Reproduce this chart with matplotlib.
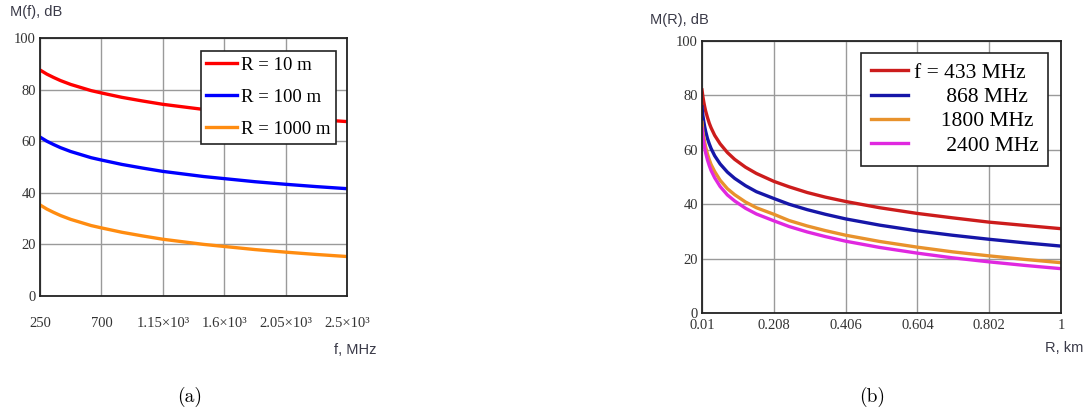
import matplotlib
matplotlib.use("Agg")
import matplotlib.pyplot as plt

# (a) attenuation vs frequency
f_mhz = [250, 300, 350, 400, 475, 550, 625, 700, 850, 1000, 1150, 1300,
         1450, 1600, 1825, 2050, 2275, 2500]
m_r10 = [87.6, 86.0, 84.7, 83.5, 82.0, 80.8, 79.6, 78.7, 77.0, 75.6, 74.3,
         73.3, 72.3, 71.5, 70.3, 69.3, 68.4, 67.6]
m_r100 = [61.6, 60.0, 58.7, 57.5, 56.0, 54.8, 53.6, 52.7, 51.0, 49.6, 48.3,
          47.3, 46.3, 45.5, 44.3, 43.3, 42.4, 41.6]
m_r1000 = [35.3, 33.7, 32.4, 31.2, 29.7, 28.5, 27.3, 26.4, 24.7, 23.3, 22.0,
           21.0, 20.0, 19.2, 18.0, 17.0, 16.1, 15.3]
labels_a = ["R = 10 m", "R = 100 m", "R = 1000 m"]
xticks_a = [250, 700, 1150, 1600, 2050, 2500]
xticklabels_a = ["250", "700", "1.15×10³", "1.6×10³", "2.05×10³", "2.5×10³"]

# (b) attenuation vs distance
r_km = [0.01, 0.0125, 0.015, 0.0175, 0.02, 0.025, 0.03, 0.035, 0.045, 0.06,
        0.08, 0.1, 0.13, 0.16, 0.208, 0.25, 0.3, 0.35, 0.406, 0.5, 0.604,
        0.7, 0.802, 0.9, 1.0]
m_433 = [82.0, 79.5, 77.5, 75.8, 74.3, 71.9, 69.8, 68.1, 65.3, 62.2, 59.0,
         56.5, 53.6, 51.3, 48.4, 46.4, 44.3, 42.6, 41.0, 38.7, 36.6, 35.0,
         33.4, 32.2, 31.0]
m_868 = [75.8, 72.5, 70.3, 68.4, 66.8, 64.2, 62.2, 60.5, 57.8, 54.8, 51.8,
         49.5, 46.8, 44.6, 42.1, 40.0, 38.0, 36.3, 34.6, 32.3, 30.2, 28.6,
         27.1, 25.8, 24.6]
m_1800 = [70.1, 66.8, 64.6, 62.7, 61.1, 58.5, 56.4, 54.6, 52.0, 48.8, 45.7,
          43.5, 40.8, 38.7, 36.3, 34.0, 32.0, 30.3, 28.6, 26.3, 24.2, 22.5,
          21.0, 19.7, 18.5]
m_2400 = [67.9, 64.6, 62.4, 60.5, 58.9, 56.3, 54.2, 52.4, 49.7, 46.5, 43.4,
          41.2, 38.5, 36.4, 33.9, 31.8, 29.8, 28.1, 26.4, 24.1, 22.0, 20.3,
          18.8, 17.5, 16.3]
labels_b = ["f = 433 MHz", "      868 MHz", "     1800 MHz", "      2400 MHz"]
xticks_b = [0.01, 0.208, 0.406, 0.604, 0.802, 1.0]
xticklabels_b = ["0.01", "0.208", "0.406", "0.604", "0.802", "1"]
yticks = [0, 20, 40, 60, 80, 100]

serif = "Liberation Serif"
sans = "Liberation Sans"
tick_color = "#333333"

fig = plt.figure(figsize=(10.88, 4.16), dpi=100)

ax1 = fig.add_axes([40 / 1088, 1 - 296 / 416, 307 / 1088, 258 / 416])
ax2 = fig.add_axes([702 / 1088, 1 - 313 / 416, 359 / 1088, 272 / 416])


def style(ax, xticks, xticklabels, xlim, xpad):
    ax.set_xlim(*xlim)
    ax.set_ylim(0, 100)
    ax.set_xticks(xticks)
    ax.set_xticklabels(xticklabels)
    ax.set_yticks(yticks)
    ax.set_yticklabels([str(v) for v in yticks])
    ax.grid(True, color="#9a9a9a", lw=1.0)
    ax.set_axisbelow(True)
    ax.tick_params(length=0, labelcolor=tick_color, labelsize=10.5)
    ax.tick_params(axis="x", pad=xpad)
    ax.tick_params(axis="y", pad=3)
    for lab in ax.get_xticklabels() + ax.get_yticklabels():
        lab.set_fontfamily(serif)
    for sp in ax.spines.values():
        sp.set_color("#222222")
        sp.set_linewidth(1.3)


def frame(leg):
    leg.get_frame().set_edgecolor("#222222")
    leg.get_frame().set_linewidth(1.2)
    leg.get_frame().set_alpha(1)


# left panel
ax1.plot(f_mhz, m_r10, color="#ff0000", lw=2.4, label=labels_a[0])
ax1.plot(f_mhz, m_r100, color="#0000ff", lw=2.4, label=labels_a[1])
ax1.plot(f_mhz, m_r1000, color="#ff8c10", lw=2.4, label=labels_a[2])
style(ax1, xticks_a, xticklabels_a, (250, 2500), 15)
leg1 = ax1.legend(loc="upper right", bbox_to_anchor=(0.964, 0.95),
                  prop={"family": serif, "size": 13.5}, frameon=True,
                  fancybox=False, handlelength=1.65, handletextpad=0.2,
                  labelspacing=0.8, borderpad=0.3, borderaxespad=0)
frame(leg1)

fig.text(10 / 1088, 1 - 12 / 416, "M(f), dB", family=sans, size=10.5,
         color="#3a3a48", va="center", ha="left")
fig.text(377 / 1088, 1 - 350 / 416, "f, MHz", family=sans, size=10.5,
         color="#3a3a48", va="center", ha="right")

# right panel
ax2.plot(r_km, m_433, color="#cc1c1c", lw=2.4, label=labels_b[0])
ax2.plot(r_km, m_868, color="#1616a8", lw=2.4, label=labels_b[1])
ax2.plot(r_km, m_1800, color="#e8922c", lw=2.4, label=labels_b[2])
ax2.plot(r_km, m_2400, color="#e028e0", lw=2.4, label=labels_b[3])
style(ax2, xticks_b, xticklabels_b, (0.01, 1.0), 4)
leg2 = ax2.legend(loc="upper right", bbox_to_anchor=(0.964, 0.956),
                  prop={"family": serif, "size": 15.5}, frameon=True,
                  fancybox=False, handlelength=1.75, handletextpad=0.25,
                  labelspacing=0.2, borderpad=0.45, borderaxespad=0)
frame(leg2)

fig.text(650 / 1088, 1 - 20 / 416, "M(R), dB", family=sans, size=10.5,
         color="#3a3a48", va="center", ha="left")
fig.text(1083 / 1088, 1 - 348 / 416, "R, km", family=sans, size=10.5,
         color="#3a3a48", va="center", ha="right")

# captions
fig.text(190 / 1088, 1 - 397 / 416, "(a)", family="cmr10", size=14,
         ha="center", va="center")
fig.text(872 / 1088, 1 - 397 / 416, "(b)", family="cmr10", size=14,
         ha="center", va="center")

fig.savefig("out.png", dpi=100)
